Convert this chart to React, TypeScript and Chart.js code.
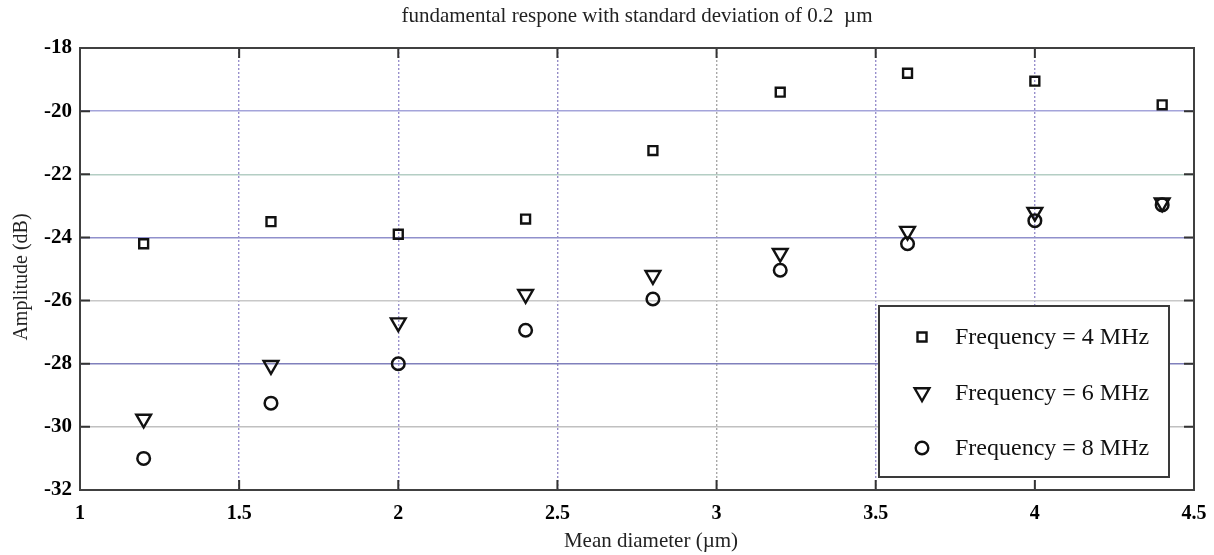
import React, { useEffect, useRef } from 'react';
import { Chart, registerables } from 'chart.js';

Chart.register(...registerables);

// ---- data ----
const meanDiameter = [1.2, 1.6, 2.0, 2.4, 2.8, 3.2, 3.6, 4.0, 4.4];
const freq4MHz = [-24.2, -23.5, -23.9, -23.42, -21.25, -19.4, -18.8, -19.05, -19.8];
const freq6MHz = [-29.75, -28.05, -26.7, -25.8, -25.2, -24.5, -23.8, -23.2, -22.9];
const freq8MHz = [-31.0, -29.25, -28.0, -26.94, -25.95, -25.04, -24.2, -23.47, -22.97];
const seriesLabels = ['Frequency = 4 MHz', 'Frequency = 6 MHz', 'Frequency = 8 MHz'];
const xTickValues = [1, 1.5, 2, 2.5, 3, 3.5, 4, 4.5];
const yTickValues = [-32, -30, -28, -26, -24, -22, -20, -18];
const titleText = 'fundamental respone with standard deviation of 0.2  \u00b5m';
const xTitle = 'Mean diameter (\u00b5m)';
const yTitle = 'Amplitude (dB)';

const FONT = '"Liberation Serif", "Times New Roman", serif';

const yGridColors: Record<string, string> = {
  '-20': '#a4a4da',
  '-22': '#b4cec4',
  '-24': '#9090cc',
  '-26': '#c8c8c8',
  '-28': '#8080bc',
  '-30': '#c0c0c0',
};
const xGridColors: Record<string, string> = {
  '1.5': '#9890cc',
  '2': '#9890cc',
  '2.5': '#948cc6',
  '3': '#a8a8a8',
  '3.5': '#9890cc',
  '4': '#9890cc',
};

function drawMarker(ctx: CanvasRenderingContext2D, kind: string, x: number, y: number) {
  ctx.beginPath();
  if (kind === 'rect') {
    ctx.rect(x - 4.5, y - 4.5, 9, 9);
  } else if (kind === 'triangle') {
    const r = 8.5;
    ctx.moveTo(x, y + r);
    ctx.lineTo(x - r * 0.866, y - r / 2);
    ctx.lineTo(x + r * 0.866, y - r / 2);
    ctx.closePath();
  } else {
    ctx.arc(x, y, 6.3, 0, Math.PI * 2);
  }
  ctx.stroke();
}

const framePlugin = {
  id: 'matlabFrame',
  afterDatasetsDraw(chart: any) {
    const { ctx, chartArea: a, scales } = chart;
    ctx.save();
    // titles
    ctx.fillStyle = '#222';
    ctx.font = `21px ${FONT}`;
    ctx.textAlign = 'center';
    ctx.textBaseline = 'middle';
    ctx.fillText(titleText, (a.left + a.right) / 2, 16);
    ctx.fillText(xTitle, (a.left + a.right) / 2 + 14, a.bottom + 51);
    ctx.save();
    ctx.translate(22, (a.top + a.bottom) / 2 + 8);
    ctx.rotate(-Math.PI / 2);
    ctx.font = `20px ${FONT}`;
    ctx.fillText(yTitle, 0, 0);
    ctx.restore();
    // legend box
    const bw = 290;
    const bh = 171;
    const bx = a.right - 25 - bw;
    const by = a.bottom - 13 - bh;
    ctx.fillStyle = '#ffffff';
    ctx.fillRect(bx, by, bw, bh);
    ctx.strokeStyle = '#3a3a3a';
    ctx.lineWidth = 2;
    ctx.strokeRect(bx, by, bw, bh);
    const kinds = ['rect', 'triangle', 'circle'];
    ctx.font = `24px ${FONT}`;
    ctx.textBaseline = 'middle';
    ctx.textAlign = 'left';
    for (let i = 0; i < 3; i++) {
      const ry = by + 31 + i * 55.5;
      ctx.strokeStyle = '#111';
      ctx.lineWidth = 2.4;
      drawMarker(ctx, kinds[i], bx + 43, ry);
      ctx.fillStyle = '#111';
      ctx.fillText(seriesLabels[i], bx + 76, ry + 1);
    }
    // inward ticks
    ctx.strokeStyle = '#333';
    ctx.lineWidth = 2;
    ctx.beginPath();
    scales.x.ticks.forEach((t: any) => {
      const px = scales.x.getPixelForValue(t.value);
      ctx.moveTo(px, a.bottom);
      ctx.lineTo(px, a.bottom - 10);
      ctx.moveTo(px, a.top);
      ctx.lineTo(px, a.top + 10);
    });
    scales.y.ticks.forEach((t: any) => {
      const py = scales.y.getPixelForValue(t.value);
      ctx.moveTo(a.left, py);
      ctx.lineTo(a.left + 10, py);
      ctx.moveTo(a.right, py);
      ctx.lineTo(a.right - 10, py);
    });
    ctx.stroke();
    // frame
    ctx.strokeStyle = '#404040';
    ctx.lineWidth = 2;
    ctx.strokeRect(a.left, a.top, a.right - a.left, a.bottom - a.top);
    ctx.restore();
  },
};

export default function App() {
  const ref = useRef<HTMLCanvasElement>(null);

  useEffect(() => {
    if (!ref.current) return;
    const mk = (ys: number[]) => meanDiameter.map((x, i) => ({ x, y: ys[i] }));
    const chart = new Chart(ref.current, {
      type: 'scatter',
      data: {
        datasets: [
          {
            label: seriesLabels[0],
            data: mk(freq4MHz),
            pointStyle: 'rect',
            pointRadius: 6.3,
            borderWidth: 2.4,
            borderColor: '#111',
            backgroundColor: 'rgba(0,0,0,0)',
          },
          {
            label: seriesLabels[1],
            data: mk(freq6MHz),
            pointStyle: 'triangle',
            pointRotation: 180,
            pointRadius: 8.5,
            borderWidth: 2.4,
            borderColor: '#111',
            backgroundColor: 'rgba(0,0,0,0)',
          },
          {
            label: seriesLabels[2],
            data: mk(freq8MHz),
            pointStyle: 'circle',
            pointRadius: 6.3,
            borderWidth: 2.5,
            borderColor: '#111',
            backgroundColor: 'rgba(0,0,0,0)',
          },
        ] as any,
      },
      options: {
        animation: false,
        responsive: true,
        maintainAspectRatio: false,
        layout: { padding: { top: 48, right: 20, left: 0, bottom: 0 } },
        plugins: {
          legend: { display: false },
          tooltip: { enabled: false },
          title: { display: false },
        },
        scales: {
          x: {
            type: 'linear',
            min: 1,
            max: 4.5,
            afterBuildTicks: (s: any) => {
              s.ticks = xTickValues.map((v) => ({ value: v }));
            },
            afterFit: (s: any) => {
              s.height = 65;
              s.paddingRight = 0;
              s.paddingLeft = 0;
            },
            border: { display: false, dash: [2, 2] },
            grid: {
              drawTicks: false,
              lineWidth: 1.4,
              color: (c: any) => xGridColors[String(c.tick?.value)] || 'rgba(0,0,0,0)',
            },
            ticks: {
              color: '#000',
              padding: 12,
              font: { family: FONT, size: 20, weight: 'bold' },
              callback: (v: any) => String(v),
            },
            title: { display: false },
          },
          y: {
            type: 'linear',
            min: -32,
            max: -18,
            afterBuildTicks: (s: any) => {
              s.ticks = yTickValues.map((v) => ({ value: v }));
            },
            afterFit: (s: any) => {
              s.width = 80;
              s.paddingTop = 0;
              s.paddingBottom = 0;
            },
            border: { display: false },
            grid: {
              drawTicks: false,
              lineWidth: 1.4,
              color: (c: any) => yGridColors[String(c.tick?.value)] || 'rgba(0,0,0,0)',
            },
            ticks: {
              color: '#000',
              padding: 8,
              font: { family: FONT, size: 21, weight: 'bold' },
              callback: (v: any) => String(v),
            },
            title: { display: false },
          },
        },
      },
      plugins: [framePlugin],
    });
    return () => chart.destroy();
  }, []);

  return (
    <div style={{ position: 'fixed', left: 0, top: 0, width: 1214, height: 555, background: '#fff' }}>
      <canvas ref={ref} />
    </div>
  );
}
